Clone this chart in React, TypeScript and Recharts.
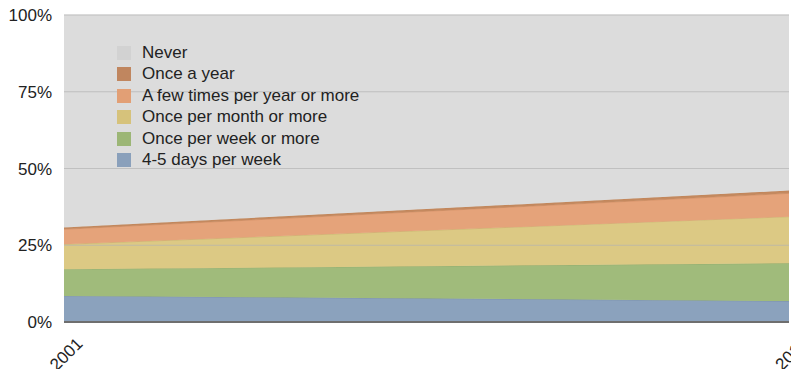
import React from 'react';
import { AreaChart, Area, XAxis, YAxis, ReferenceLine } from 'recharts';

const years = ['2001', '2011'];
const daysPerWeek = [8.5, 6.8];
const oncePerWeek = [8.7, 12.3];
const oncePerMonth = [8.1, 15.2];
const fewTimesPerYear = [4.9, 7.6];
const onceAYear = [0.6, 0.9];
const never = [69.2, 57.2];

const yTicks = [0, 25, 50, 75, 100];

const series = [
  { key: 'days', name: '4-5 days per week', values: daysPerWeek, fill: '#8ba2bd', stroke: '#7d93ad', swatch: '#8aa0bb' },
  { key: 'week', name: 'Once per week or more', values: oncePerWeek, fill: '#a0bb7b', stroke: '#94ae70', swatch: '#9cb676' },
  { key: 'month', name: 'Once per month or more', values: oncePerMonth, fill: '#dcc984', stroke: '#cdb974', swatch: '#d6c27b' },
  { key: 'few', name: 'A few times per year or more', values: fewTimesPerYear, fill: '#e5a37a', stroke: '#d9956b', swatch: '#e29f75' },
  { key: 'yearly', name: 'Once a year', values: onceAYear, fill: '#c4895f', stroke: '#c08558', swatch: '#c0865f' },
  { key: 'never', name: 'Never', values: never, fill: '#dcdcdc', stroke: '#dcdcdc', swatch: '#d2d2d2' },
];

const data = years.map((label, i) => {
  const row: any = { label };
  series.forEach((s) => {
    row[s.key] = s.values[i];
  });
  return row;
});

const font = '"Liberation Sans", Arial, Helvetica, sans-serif';

const XTick = (props: any) => {
  const { x, y, payload } = props;
  return (
    <text
      x={x + 2}
      y={y + 30}
      textAnchor="middle"
      fontSize={17}
      fill="#222"
      fontFamily={font}
      transform={`rotate(-45, ${x + 2}, ${y + 24})`}
    >
      {payload.value}
    </text>
  );
};

const App: React.FC = () => {
  return (
    <div style={{ position: 'absolute', left: 0, top: 0, width: 791, height: 369, background: '#fff' }}>
      <AreaChart width={791} height={369} data={data} margin={{ top: 15, right: 2, bottom: 0, left: 0 }}>
        <XAxis
          dataKey="label"
          height={47}
          tick={<XTick />}
          tickLine={false}
          axisLine={{ stroke: '#6e6e6e', strokeWidth: 2 }}
          interval={0}
        />
        <YAxis
          width={64}
          domain={[0, 100]}
          ticks={yTicks}
          tickFormatter={(v) => `${v}%`}
          tickLine={false}
          axisLine={false}
          tickSize={0}
          tickMargin={12}
          tick={{ fontSize: 17, fill: '#222', fontFamily: font }}
        />
        {series.map((s) => (
          <Area
            key={s.key}
            type="linear"
            dataKey={s.key}
            name={s.name}
            stackId="1"
            fill={s.fill}
            fillOpacity={1}
            stroke={s.stroke}
            strokeWidth={1}
            isAnimationActive={false}
          />
        ))}
        {yTicks.slice(1).map((t) => (
          <ReferenceLine key={t} y={t} stroke="#b4b4b4" strokeOpacity={0.7} strokeWidth={1} />
        ))}
      </AreaChart>
      <div style={{ position: 'absolute', left: 117, top: 42, fontFamily: font, fontSize: 17, color: '#222' }}>
        {[...series].reverse().map((s) => (
          <div key={s.key} style={{ display: 'flex', alignItems: 'center', height: 21.5 }}>
            <span style={{ width: 14, height: 14, background: s.swatch, display: 'inline-block', marginRight: 11 }} />
            <span>{s.name}</span>
          </div>
        ))}
      </div>
    </div>
  );
};

export default App;
